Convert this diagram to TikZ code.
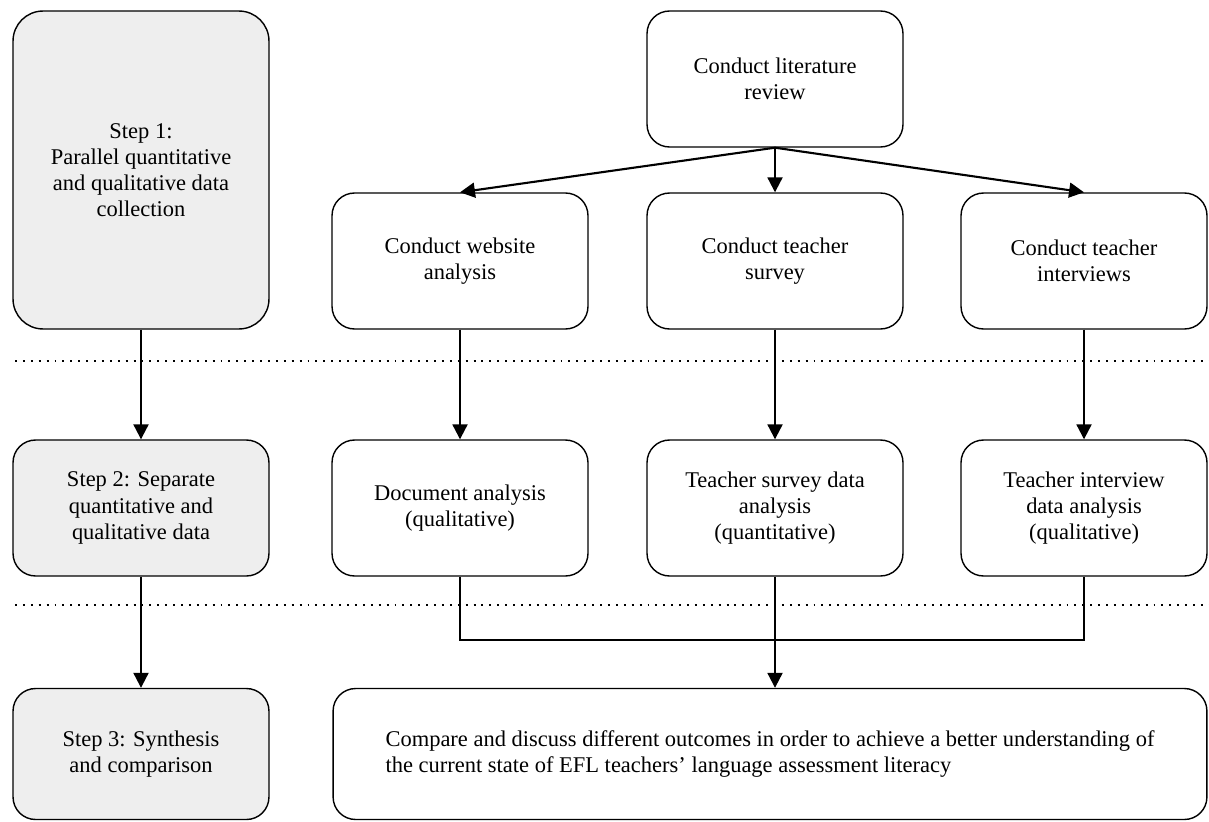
\documentclass[tikz,border=0pt]{standalone}
\usepackage{fontspec}
\setmainfont{Liberation Serif}
\usetikzlibrary{arrows.meta,positioning}
\definecolor{stepgray}{HTML}{EEEEEE}

\begin{document}
\begin{tikzpicture}[x=0.02cm, y=-0.02cm,
	box/.style={draw, line width=0.8pt, rounded corners=0.45cm, align=center, minimum width=5.12cm, minimum height=2.72cm, inner sep=2pt, font=\fontsize{12.8}{14.9}\selectfont},
	stepbox/.style={box, fill=stepgray},
	flow/.style={-{Triangle[length=8.5pt,width=8.5pt]}, line width=1.2pt},
	link/.style={line width=1.2pt},
	sep/.style={line width=1.1pt, dash pattern=on 1.1pt off 3.4pt}]
	\useasboundingbox (0,0) rectangle (1209,821);
	
	% steps on the left
	\node[stepbox, minimum height=6.36cm, rounded corners=0.6cm] (step1) at (141,170) {Step 1:\\Parallel quantitative\\and qualitative data\\collection};
	\node[stepbox] (step2) at (141,508) {Step 2: Separate\\quantitative and\\qualitative data};
	\node[stepbox, minimum height=2.62cm] (step3) at (141,754) {Step 3: Synthesis\\and comparison};
	
	% collection
	\node[box] (lit) at (775,79) {Conduct literature\\review};
	\node[box] (web) at (460,261) {Conduct website\\analysis};
	\node[box] (survey) at (775,261) {Conduct teacher\\survey};
	\node[box, minimum width=4.92cm] (interv) at (1084,261) {Conduct teacher\\interviews};
	
	% analysis
	\node[box] (docanl) at (460,508) {Document analysis\\(qualitative)};
	\node[box] (survanl) at (775,508) {Teacher survey data\\analysis\\(quantitative)};
	\node[box, minimum width=4.92cm] (intanl) at (1084,508) {Teacher interview\\data analysis\\(qualitative)};
	
	% synthesis
	\node[box, align=left, minimum width=17.48cm, minimum height=2.62cm] (final) at (770,754) {Compare and discuss different outcomes in order to achieve a better understanding of\\the current state of EFL teachers’ language assessment literacy};
	\coordinate (merge) at (775,640);
	
	\draw[sep] (15,361) -- (1209,361);
	\draw[sep] (15,605) -- (1209,605);
	
	\draw[flow] (step1) -- (step2);
	\draw[flow] (step2) -- (step3);
	\draw[flow] (lit.south) -- (web.north);
	\draw[flow] (lit.south) -- (survey.north);
	\draw[flow] (lit.south) -- (interv.north);
	\draw[flow] (web) -- (docanl);
	\draw[flow] (survey) -- (survanl);
	\draw[flow] (interv) -- (intanl);
	\draw[link] (docanl.south) |- (merge) -| (intanl.south);
	\draw[flow] (survanl.south) -- (survanl.south |- final.north);
\end{tikzpicture}
\end{document}
